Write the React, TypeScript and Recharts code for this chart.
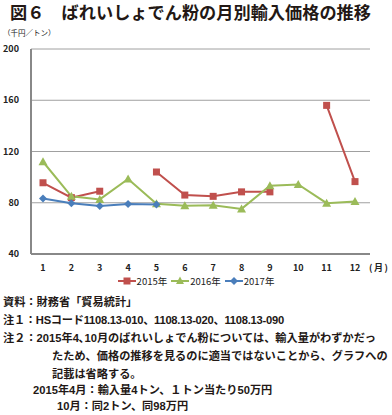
import React from 'react';
import { LineChart, Line, XAxis, YAxis, CartesianGrid, Legend } from 'recharts';

const months = ['1', '2', '3', '4', '5', '6', '7', '8', '9', '10', '11', '12'];
const y2015: (number | null)[] = [95.6, 84, 89, null, 104, 86, 85, 88.5, 88.5, null, 156, 96.5];
const y2016: (number | null)[] = [112, 85, 82.6, 98.5, 79.2, 77.6, 78, 75.2, 93.2, 94.3, 79.7, 81];
const y2017: (number | null)[] = [83.4, 79.6, 77.4, 79, 78.6, null, null, null, null, null, null, null];
const yTicks = [40, 80, 120, 160, 200];
const seriesNames = ['2015年', '2016年', '2017年'];
const seriesColors = ['#C0504D', '#9BBB59', '#4A7EBB'];

const data = months.map((m, i) => ({ m, a: y2015[i], b: y2016[i], c: y2017[i] }));

const FONT = '"Noto Sans CJK JP", "Noto Sans", sans-serif';
const NOTE_FONT = '"Liberation Sans", "Noto Sans CJK JP", sans-serif';

const Square = (props: any) => {
  const { cx, cy, value } = props;
  if (cx == null || cy == null || value == null) return null;
  return <rect x={cx - 3.5} y={cy - 3.5} width={7} height={7} fill={seriesColors[0]} />;
};
const Triangle = (props: any) => {
  const { cx, cy, value } = props;
  if (cx == null || cy == null || value == null) return null;
  return <polygon points={`${cx},${cy - 4.5} ${cx + 4.5},${cy + 3.5} ${cx - 4.5},${cy + 3.5}`} fill={seriesColors[1]} />;
};
const Diamond = (props: any) => {
  const { cx, cy, value } = props;
  if (cx == null || cy == null || value == null) return null;
  return <polygon points={`${cx},${cy - 4} ${cx + 4},${cy} ${cx},${cy + 4} ${cx - 4},${cy}`} fill={seriesColors[2]} />;
};

const markerIcon = (i: number) => {
  const c = seriesColors[i];
  if (i === 0) return <rect x={5.5} y={1.5} width={7} height={7} fill={c} />;
  if (i === 1) return <polygon points="9,0.5 13,8 5,8" fill={c} />;
  return <polygon points="9,1 13,5 9,9 5,5" fill={c} />;
};

const LegendContent = () => (
  <div style={{ display: 'flex', justifyContent: 'center', alignItems: 'center', fontFamily: FONT, fontSize: 9.5, color: '#222' }}>
    {seriesNames.map((n, i) => (
      <div key={n} style={{ display: 'flex', alignItems: 'center', marginRight: i < 2 ? 4 : 0 }}>
        <svg width={18} height={10}>
          <line x1={0} y1={5} x2={18} y2={5} stroke={seriesColors[i]} strokeWidth={2} />
          {markerIcon(i)}
        </svg>
        <span style={{ marginLeft: 1 }}>{n}</span>
      </div>
    ))}
  </div>
);

const textStyle: React.CSSProperties = {
  position: 'absolute',
  fontFamily: NOTE_FONT,
  fontSize: 11.2,
  fontWeight: 'bold',
  color: '#231815',
  whiteSpace: 'nowrap',
  lineHeight: '14px',
};

export default function App() {
  return (
    <div style={{ position: 'absolute', top: 0, left: 0, width: 392, height: 415, background: '#fff', overflow: 'hidden' }}>
      <div style={{ position: 'absolute', left: 10, top: 2, fontFamily: FONT, fontWeight: 'bold', fontSize: 17.2, lineHeight: '20px', color: '#231815', whiteSpace: 'nowrap' }}>
        図６　ばれいしょでん粉の月別輸入価格の推移
      </div>
      <div style={{ position: 'absolute', left: 3, top: 28, fontFamily: FONT, fontSize: 7.5, lineHeight: '10px', color: '#222', whiteSpace: 'nowrap' }}>
        （千円／トン）
      </div>
      <div style={{ position: 'absolute', left: 0, top: 0 }}>
        <LineChart width={392} height={290} data={data} margin={{ top: 49, right: 22, left: 0, bottom: 16 }}>
          <CartesianGrid horizontal={true} vertical={false} stroke="#a0a0a0" strokeWidth={1} />
          <XAxis
            dataKey="m"
            axisLine={{ stroke: '#888', strokeWidth: 2 }}
            tickLine={false}
            tickMargin={5}
            height={20}
            padding={{ left: 12, right: 15 }}
            tick={{ fontSize: 9, fill: '#222', fontFamily: FONT, fontWeight: 'bold' }}
            interval={0}
          />
          <YAxis
            domain={[40, 200]}
            ticks={yTicks}
            width={31}
            axisLine={{ stroke: '#888', strokeWidth: 2 }}
            tickLine={false}
            tickMargin={6}
            tick={{ fontSize: 9, fill: '#222', fontFamily: FONT, fontWeight: 'bold' }}
            allowDataOverflow
          />
          <Legend
            verticalAlign="middle"
            align="center"
            layout="horizontal"
            content={<LegendContent />}
            wrapperStyle={{ top: 274, left: 0, width: 392, height: 14 }}
          />
          <Line dataKey="a" name={seriesNames[0]} stroke={seriesColors[0]} strokeWidth={2} dot={<Square />} activeDot={false} isAnimationActive={false} />
          <Line dataKey="b" name={seriesNames[1]} stroke={seriesColors[1]} strokeWidth={2} dot={<Triangle />} activeDot={false} isAnimationActive={false} />
          <Line dataKey="c" name={seriesNames[2]} stroke={seriesColors[2]} strokeWidth={2} dot={<Diamond />} activeDot={false} isAnimationActive={false} />
        </LineChart>
      </div>
      <div style={{ position: 'absolute', left: 369, top: 262, fontFamily: FONT, fontSize: 9, lineHeight: '12px', fontWeight: 'bold', color: '#222', whiteSpace: 'nowrap', letterSpacing: 1.5 }}>
        (月)
      </div>
      <div style={{ ...textStyle, left: 3, top: 295 }}>資料：財務省「貿易統計」</div>
      <div style={{ ...textStyle, left: 3, top: 313, letterSpacing: -0.25 }}>注１：HSコード1108.13-010、1108.13-020、1108.13-090</div>
      <div style={{ ...textStyle, left: 3, top: 331 }}>注２：2015年4､10月のばれいしょでん粉については、輸入量がわずかだっ</div>
      <div style={{ ...textStyle, left: 52, top: 349 }}>たため、価格の推移を見るのに適当ではないことから、グラフへの</div>
      <div style={{ ...textStyle, left: 52, top: 367 }}>記載は省略する。</div>
      <div style={{ ...textStyle, left: 33, top: 383 }}>2015年4月：輸入量4トン、１トン当たり50万円</div>
      <div style={{ ...textStyle, left: 57, top: 399 }}>10月：同2トン、同98万円</div>
    </div>
  );
}
